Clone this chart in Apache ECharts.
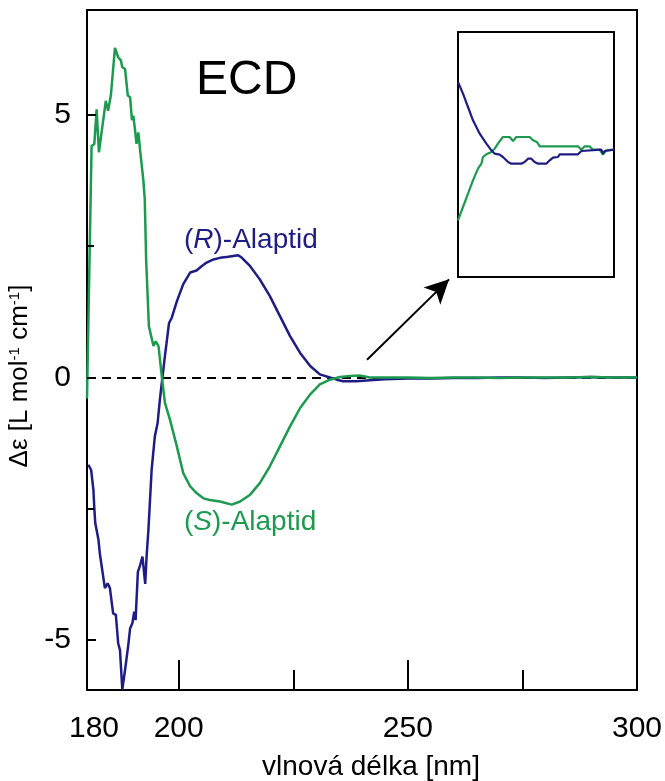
<!DOCTYPE html>
<html>
<head>
<meta charset="utf-8">
<script src="https://cdn.jsdelivr.net/npm/echarts@6/dist/echarts.min.js"></script>
<style>
html,body{margin:0;padding:0;background:#fff;}
#chart{width:665px;height:781px;}
</style>
</head>
<body>
<div id="chart"></div>
<script>
// ---- data (wavelength in nm, Δε in L mol-1 cm-1) ----
const sWave = [180.0,181.0,181.6,182.1,182.6,184.1,184.6,185.2,186.1,186.8,187.4,187.7,188.3,188.9,189.4,189.8,190.1,190.5,190.8,191.2,191.6,192.3,192.6,192.9,193.5,194.5,195.0,195.6,196.4,197.0,198.1,199.6,201.0,202.5,203.9,205.4,206.8,209.0,211.6,213.4,215.6,217.7,219.9,222.1,224.3,226.5,228.7,230.8,233.0,235.2,237.4,239.5,241.7,245,250,255,260,265,270,275,280,285,290,295,300];
const sVals = [-0.4,4.41,4.45,5.11,4.29,5.27,5.08,5.37,6.28,6.10,6.04,5.91,5.88,5.37,5.34,4.90,4.99,4.70,4.45,4.67,4.32,3.75,3.40,2.25,0.98,0.60,0.69,0.60,-0.04,-0.48,-0.80,-1.31,-1.82,-2.07,-2.20,-2.30,-2.33,-2.36,-2.42,-2.36,-2.23,-2.01,-1.69,-1.31,-0.93,-0.58,-0.32,-0.13,-0.04,0.01,0.03,0.04,0.0,0.0,0.0,-0.01,0.0,0.0,-0.01,0.0,0.0,0.0,0.01,0.0,0.0];

const rWave = [180.3,180.9,181.4,181.6,181.8,182.1,182.5,182.8,183.2,183.9,184.5,185.0,185.7,186.3,186.8,187.2,187.7,188.3,189.0,189.4,189.9,190.3,190.6,191.1,191.6,192.1,192.7,193.0,193.4,194.1,194.8,195.4,195.9,196.4,197.0,197.9,198.5,199.6,201.0,202.5,202.9,203.9,205.0,206.1,207.6,209.0,210.8,213.0,213.8,215.6,217.7,219.9,222.1,224.3,226.5,228.7,230.8,233.0,234.5,235.9,238.8,241.7,245,250,255,260,265,270,275,280,285,290,295,300];
const rVals = [-1.66,-1.76,-2.14,-2.49,-2.77,-2.77,-3.09,-3.35,-3.38,-4.01,-3.92,-4.01,-4.49,-4.52,-5.06,-5.19,-5.94,-5.57,-5.10,-4.78,-4.68,-4.46,-4.62,-3.70,-3.57,-3.41,-3.93,-3.41,-2.90,-1.76,-1.12,-0.87,-0.42,-0.04,0.41,1.04,1.14,1.45,1.78,2.00,2.03,2.04,2.12,2.19,2.25,2.28,2.30,2.33,2.28,2.12,1.87,1.55,1.17,0.79,0.47,0.22,0.06,0.0,-0.04,-0.07,-0.07,-0.05,-0.03,-0.02,-0.02,-0.01,-0.01,0.0,0.0,-0.01,0.0,0.01,0.0,0.0];

// inset (magnified tail, relative units)
const insetX  = [0,3.2,6.4,9.6,13.9,18.2,21.4,23.5,26.7,28.8,32.1,34.2,40.6,42.7,44.9,47.0,49.1,51.3,56.6,58.8,60.9,64.1,65.2,76.9,79.1,80.1,91.9,92.9,94.0,95.1,100];
const insetR  = [2.03,1.68,1.28,0.88,0.48,0.18,-0.02,-0.12,-0.15,-0.22,-0.37,-0.42,-0.42,-0.37,-0.27,-0.27,-0.37,-0.42,-0.42,-0.32,-0.24,-0.22,-0.14,-0.14,-0.04,0,0,-0.12,-0.04,0,0];
const insetSX = [0,3.2,6.4,9.6,12.8,15.0,16.0,18.2,19.2,21.4,23.5,25.6,28.8,33.1,35.3,37.4,45.9,48.1,50.6,52.4,76.9,79.1,81.2,84.4,86.5,90.8,92.9,95.1,100];
const insetS  = [-2.12,-1.72,-1.32,-0.92,-0.57,-0.42,-0.22,-0.14,-0.14,-0.07,0.03,0.18,0.38,0.38,0.26,0.38,0.38,0.28,0.23,0.10,0.10,0,0.10,0.10,0,0,-0.15,-0.02,0];

const xLabelValues = [180,200,250,300];
const xMajorTicks = [200,250];
const xMinorTicks = [225,275];
const yLabelValues = [-5,0,5];
const yMajorTicks = [-5,0,5];
const yMinorTicks = [-2.5,2.5];

const BLUE = '#1f1d84';
const GREEN = '#1d9a4f';
const FONT = 'Liberation Sans, Arial, sans-serif';
const Y_MIN = -5.95, Y_MAX = 7.0;
const PX_PER_UNIT = (781 - 10 - 91) / (Y_MAX - Y_MIN);
const ZERO_Y = 10 + Y_MAX * PX_PER_UNIT;

const zip = (a,b)=>a.map((v,i)=>[v,b[i]]);

const chart = echarts.init(document.getElementById('chart'));
chart.setOption({
  animation:false,
  backgroundColor:'#fff',
  grid:[
    {left:87,right:28,top:10,bottom:91,show:true,borderColor:'#000',borderWidth:2,backgroundColor:'transparent',outerBoundsMode:'none',containLabel:false},
    {left:458,top:32,width:156,height:245,show:true,borderColor:'#000',borderWidth:2,backgroundColor:'#fff',z:5,outerBoundsMode:'none',containLabel:false},
    {left:87,right:28,top:ZERO_Y-5*PX_PER_UNIT,height:10*PX_PER_UNIT,show:false,outerBoundsMode:'none',containLabel:false}
  ],
  xAxis:[
    {type:'value',gridIndex:0,min:180,max:300,position:'bottom',
     axisLine:{show:false,onZero:false},splitLine:{show:false},
     axisTick:{show:true,inside:true,length:30,customValues:xMajorTicks,lineStyle:{color:'#000',width:2}},
     axisLabel:{customValues:xLabelValues,fontSize:30,color:'#000',fontFamily:FONT,margin:24,
       formatter:(v)=> v===180 ? '{p|180}' : String(v),
       rich:{p:{fontSize:30,fontFamily:FONT,color:'#000',padding:[0,0,0,14]}}},
     name:'vlnová délka [nm]',nameLocation:'middle',nameGap:63,
     nameTextStyle:{fontSize:28,color:'#000',fontFamily:FONT,padding:[0,0,0,18]}},
    {type:'value',gridIndex:0,min:180,max:300,position:'bottom',
     axisLine:{show:false,onZero:false},splitLine:{show:false},
     axisTick:{show:true,inside:true,length:20,customValues:xMinorTicks,lineStyle:{color:'#000',width:2}},
     axisLabel:{show:false}},
    {type:'value',gridIndex:1,min:0,max:100,show:false},
    {type:'value',gridIndex:2,min:180,max:300,show:false}
  ],
  yAxis:[
    {type:'value',gridIndex:0,min:Y_MIN,max:Y_MAX,position:'left',
     axisLine:{show:false,onZero:false},splitLine:{show:false},
     axisTick:{show:false},axisLabel:{show:false},
     name:'{a|Δε [L mol}{s|-1}{a| cm}{s|-1}{a|]}',nameLocation:'middle',nameRotate:90,nameGap:54,
     nameTextStyle:{fontFamily:FONT,color:'#000',padding:[0,52,0,0],
       rich:{a:{fontSize:26,fontFamily:FONT,color:'#000'},s:{fontSize:15,fontFamily:FONT,color:'#000',verticalAlign:'top',padding:[0,0,10,0]}}}},
    {type:'value',gridIndex:1,min:-3.82,max:3.53,show:false},
    {type:'value',gridIndex:2,min:-5,max:5,position:'left',
     axisLine:{show:false,onZero:false},splitLine:{show:false},
     axisTick:{show:false},
     axisLabel:{customValues:yLabelValues,fontSize:30,color:'#000',fontFamily:FONT,margin:16}}
  ],
  series:[
    {type:'line',xAxisIndex:0,yAxisIndex:0,data:zip(sWave,sVals),showSymbol:false,symbol:'none',
     lineStyle:{color:GREEN,width:2.5},z:3,
     markLine:{silent:true,symbol:'none',label:{show:false},z:2,
       lineStyle:{color:'#000',type:[9,6],width:2},
       data:[{yAxis:0}]}},
    {type:'line',xAxisIndex:0,yAxisIndex:0,data:zip(rWave,rVals),showSymbol:false,symbol:'none',
     lineStyle:{color:BLUE,width:2.5},z:2,
     markLine:{silent:true,symbol:['none','arrow'],symbolSize:[18,24],label:{show:false},
       lineStyle:{color:'#000',type:'solid',width:2},
       data:[[{coord:[241.1,0.34]},{coord:[259.0,1.87]}]]}},
    {type:'line',xAxisIndex:2,yAxisIndex:1,data:zip(insetSX,insetS),showSymbol:false,symbol:'none',
     lineStyle:{color:GREEN,width:2.2},z:6},
    {type:'line',xAxisIndex:2,yAxisIndex:1,data:zip(insetX,insetR),showSymbol:false,symbol:'none',
     lineStyle:{color:BLUE,width:2.2},z:7}
  ],
  graphic:[
    {id:'ecd',type:'text',left:196,top:57,z:10,style:{text:'ECD',fontSize:48,fontFamily:FONT,fill:'#000'}},
    {id:'rlab',type:'text',left:184,top:226,z:10,style:{text:'{n|(}{i|R}{n|)-Alaptid}',
      rich:{n:{fontSize:28,fontFamily:FONT,fill:BLUE,color:BLUE},i:{fontSize:28,fontFamily:FONT,fontStyle:'italic',fill:BLUE,color:BLUE}}}},
    {id:'slab',type:'text',left:184,top:508,z:10,style:{text:'{n|(}{i|S}{n|)-Alaptid}',
      rich:{n:{fontSize:28,fontFamily:FONT,fill:GREEN,color:GREEN},i:{fontSize:28,fontFamily:FONT,fontStyle:'italic',fill:GREEN,color:GREEN}}}}
  ]
});

// y-axis ticks (inward), placed through the chart's own y scale
const tickEls = [];
const addTicks = (vals, len, tag) => vals.forEach((v, i) => {
  const p = chart.convertToPixel({xAxisIndex:0, yAxisIndex:0}, [180, v]);
  if (!p) return;
  const y = Math.round(p[1]);
  tickEls.push({id:'yt_'+tag+i, type:'line', z:20, silent:true,
    shape:{x1:p[0], y1:y, x2:p[0]+len, y2:y},
    style:{stroke:'#000', lineWidth:2}});
});
addTicks(yMajorTicks, 9, 'M');
addTicks(yMinorTicks, 7, 'm');
chart.setOption({graphic: tickEls});
</script>
</body>
</html>
